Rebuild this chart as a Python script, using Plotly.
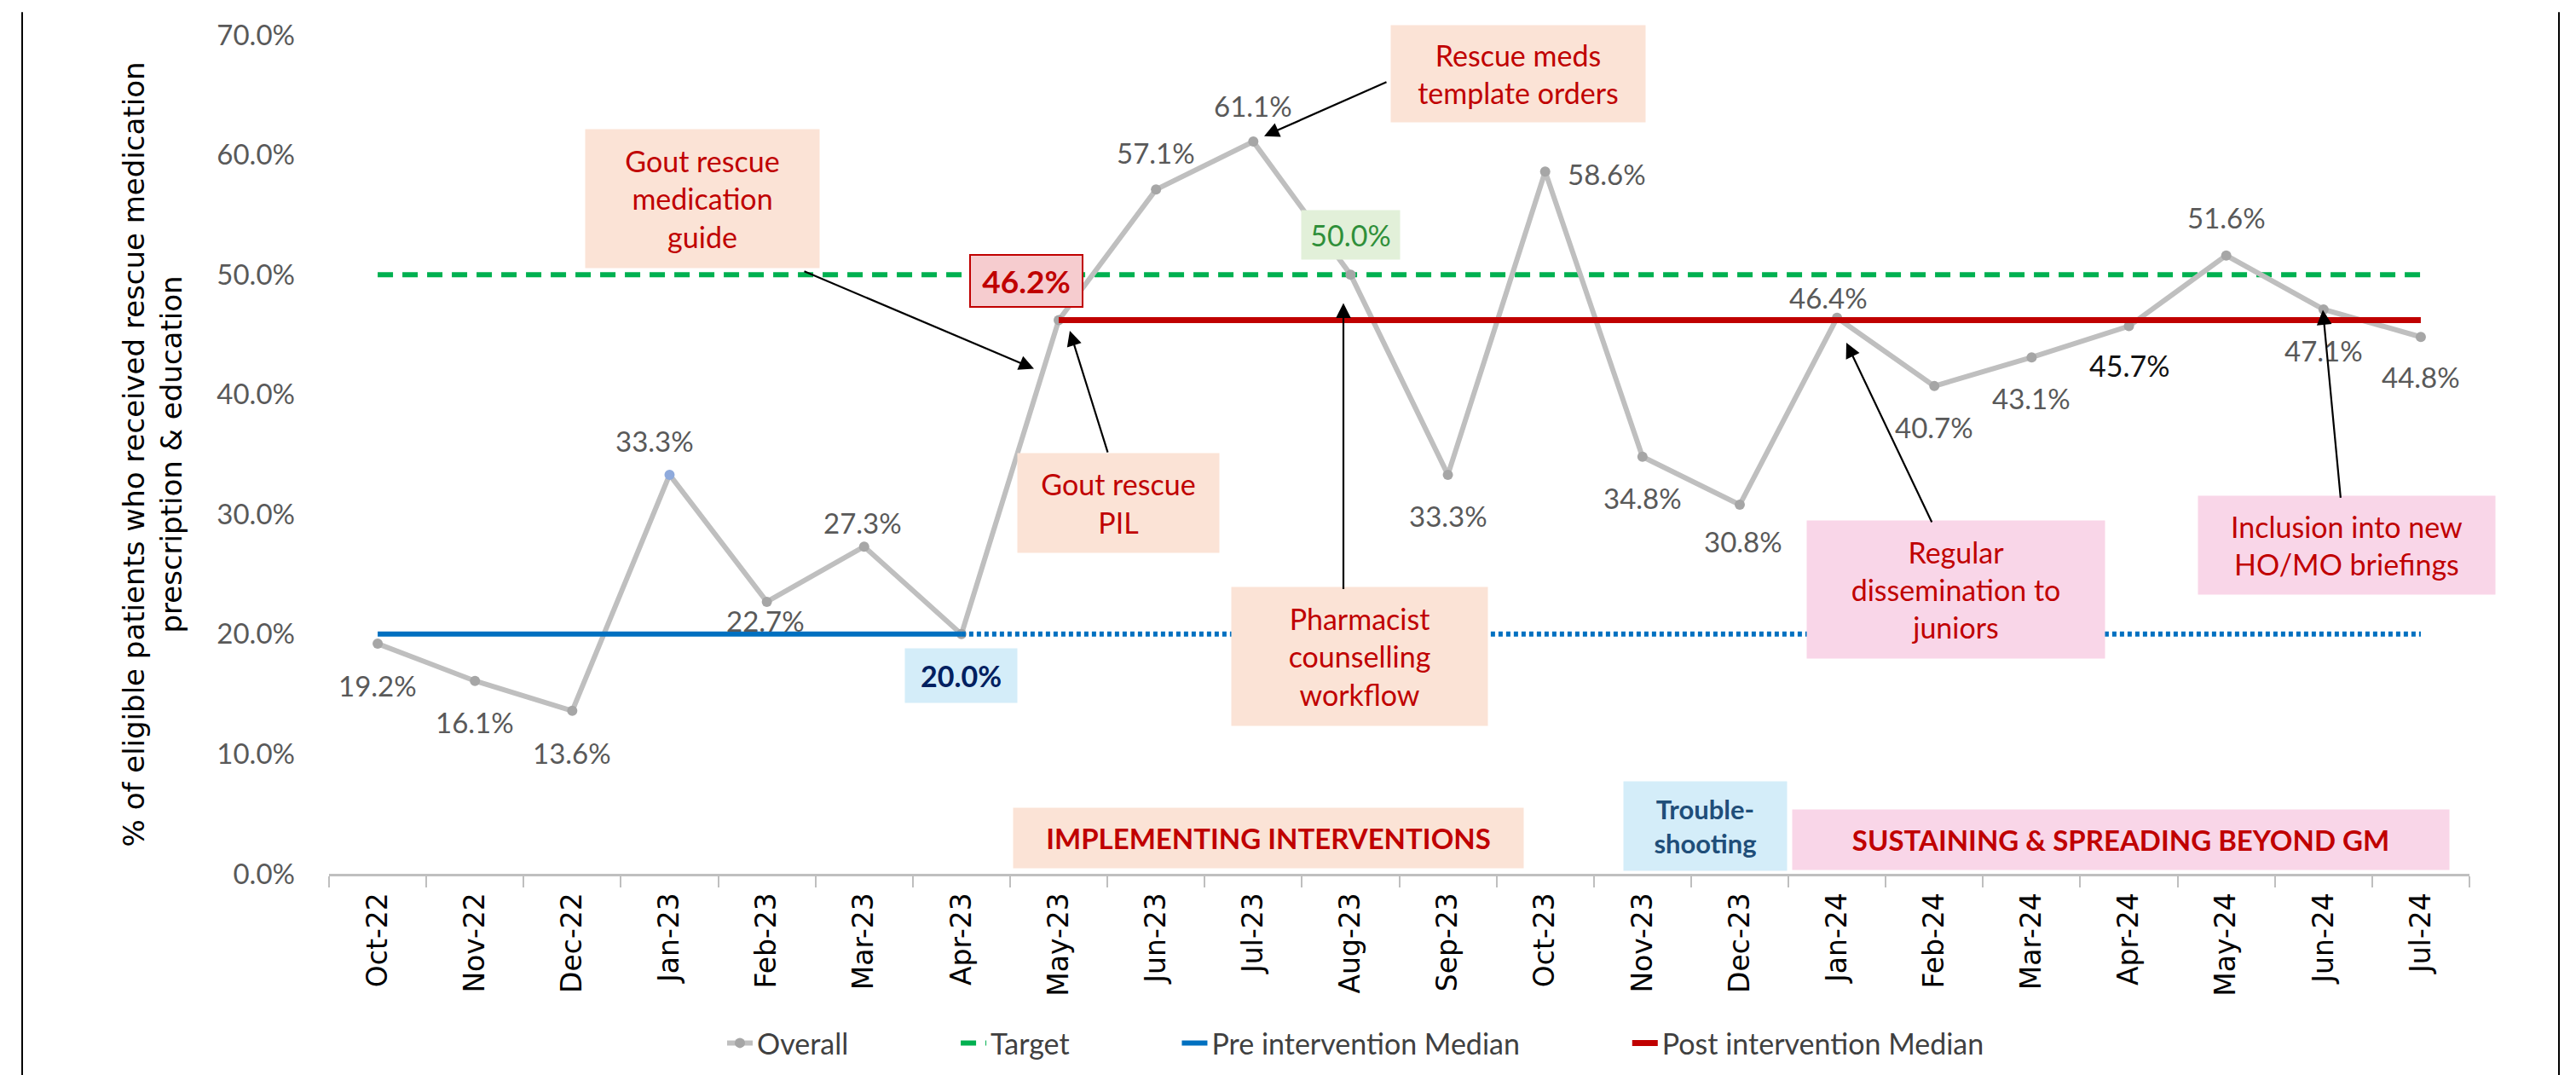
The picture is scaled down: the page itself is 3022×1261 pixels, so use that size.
import plotly.graph_objects as go

# ---- data -------------------------------------------------------------
months = [
    "Oct-22", "Nov-22", "Dec-22", "Jan-23", "Feb-23", "Mar-23", "Apr-23",
    "May-23", "Jun-23", "Jul-23", "Aug-23", "Sep-23", "Oct-23", "Nov-23",
    "Dec-23", "Jan-24", "Feb-24", "Mar-24", "Apr-24", "May-24", "Jun-24",
    "Jul-24",
]
overall = [
    19.2, 16.1, 13.6, 33.3, 22.7, 27.3, 20.0, 46.2, 57.1, 61.1, 50.0,
    33.3, 58.6, 34.8, 30.8, 46.4, 40.7, 43.1, 45.7, 51.6, 47.1, 44.8,
]
target = 50.0
pre_median = 20.0
post_median = 46.2
pre_last = 6      # Apr-23, last month of the baseline
post_first = 7    # May-23, first month after interventions

# ---- layout helpers ---------------------------------------------------
W, H = 3022, 1261
L, R, T, B = 378, 133, 22, 244
PW, PH = W - L - R, H - T - B

FONT = "Lato, 'Open Sans', sans-serif"
WIDE = "'DejaVu Sans', Verdana, sans-serif"
GRAY_TXT = "#595959"
RED_TXT = "#C00000"
PEACH = "#FBE3D6"
PINK = "#F9D6E8"
LBLUE = "#D4EDF9"
NB = "\u00a0"


def px_x(x):
    return (x - L) / PW


def px_y(y):
    return (T + PH - y) / PH


fig = go.Figure()

fig.add_trace(go.Scatter(
    x=months, y=[target] * len(months), mode="lines", name="Target" + NB * 14,
    line=dict(color="#00B050", width=6, dash="18px,11px"), legendrank=2,
))

mcol = ["#A6A6A6"] * len(months)
mcol[3] = "#8FAADC"
fig.add_trace(go.Scatter(
    x=months, y=overall, mode="lines+markers", name="Overall" + NB * 14,
    line=dict(color="#BFBFBF", width=6),
    marker=dict(size=12, color=mcol), legendrank=1,
))

fig.add_trace(go.Scatter(
    x=months[:pre_last + 1], y=[pre_median] * (pre_last + 1), mode="lines",
    name="Pre intervention Median" + NB * 14,
    line=dict(color="#0070C0", width=6), legendrank=3,
))
fig.add_trace(go.Scatter(
    x=months[pre_last:], y=[pre_median] * (len(months) - pre_last),
    mode="lines", showlegend=False,
    line=dict(color="#0070C0", width=6, dash="5px,4px"),
))
fig.add_trace(go.Scatter(
    x=months[post_first:], y=[post_median] * (len(months) - post_first),
    mode="lines", name="Post intervention Median",
    line=dict(color="#C00000", width=7), legendrank=4,
))

# ---- data labels ------------------------------------------------------
# label offsets (dx, dy) in px from the point, dy downwards
offsets = [
    (0, 49), (0, 48), (0, 49), (-17, -40), (-2, 22), (-2, -28), (0, 49),
    (-38, -46), (0, -43), (0, -42), (0, -47), (0, 48), (72, 3), (0, 48),
    (4, 43), (-10, -24), (0, 48), (0, 48), (0, 46), (0, -45), (0, 48),
    (0, 47),
]
special = {
    6: dict(font=dict(family=FONT, size=34, color="#002060"), bgcolor=LBLUE,
            width=131, height=63, bold=True),
    7: dict(font=dict(family=FONT, size=37, color=RED_TXT), bgcolor="#F6CCCF",
            width=130, height=59, bold=True, bordercolor=RED_TXT,
            borderwidth=2),
    10: dict(font=dict(family=FONT, size=34, color="#2F8F3A"),
             bgcolor="#E2F0D9", width=115, height=57, bold=False),
    18: dict(font=dict(family=FONT, size=34, color="#111111"), bold=False),
}
for i, (m, v) in enumerate(zip(months, overall)):
    dx, dy = offsets[i]
    txt = f"{v:.1f}%"
    kw = dict(font=dict(family=FONT, size=33, color=GRAY_TXT))
    if i in special:
        s = dict(special[i])
        if s.pop("bold"):
            txt = f"<b>{txt}</b>"
        kw.update(s)
    fig.add_annotation(x=m, y=v, text=txt, showarrow=False, xshift=dx,
                       yshift=-dy, xanchor="center", yanchor="middle",
                       borderpad=0, **kw)

# ---- intervention boxes -----------------------------------------------
boxes = [
    ("Gout rescue<br>medication<br>guide", 679, 135, 953, 297, PEACH, RED_TXT, False, 34),
    ("Rescue meds<br>template orders", 1624, 12, 1922, 125, PEACH, RED_TXT, False, 34),
    ("Gout rescue<br>PIL", 1186, 519, 1422, 635, PEACH, RED_TXT, False, 34),
    ("Pharmacist<br>counselling<br>workflow", 1437, 678, 1737, 840, PEACH, RED_TXT, False, 34),
    ("Regular<br>dissemination to<br>juniors", 2112, 599, 2461, 760, PINK, RED_TXT, False, 34),
    ("Inclusion into new<br>HO/MO briefings", 2571, 570, 2919, 685, PINK, RED_TXT, False, 34),
    ("IMPLEMENTING INTERVENTIONS", 1181, 940, 1779, 1010, PEACH, RED_TXT, True, 33),
    ("Trouble-<br>shooting", 1897, 908, 2088, 1012, LBLUE, "#1F4E79", True, 31),
    ("SUSTAINING & SPREADING BEYOND GM", 2095, 942, 2865, 1012, PINK, RED_TXT, True, 33),
]
for text, x0, y0, x1, y1, bg, col, bold, size in boxes:
    fig.add_annotation(
        xref="paper", yref="paper", x=px_x((x0 + x1) / 2), y=px_y((y0 + y1) / 2),
        text=f"<b>{text}</b>" if bold else text, showarrow=False,
        xanchor="center", yanchor="middle", width=x1 - x0, height=y1 - y0,
        bgcolor=bg, borderpad=0, align="center", valign="middle",
        font=dict(family=FONT, size=size, color=col),
    )

# arrows: head (x, y) -> tail (x, y) in px
arrows = [
    ((1205, 418), (934, 303)),
    ((1247, 373), (1292, 517)),
    ((1475, 142), (1620, 78)),
    ((1568, 340), (1568, 677)),
    ((2158, 387), (2259, 599)),
    ((2717, 348), (2738, 570)),
]
for (hx, hy), (tx, ty) in arrows:
    fig.add_annotation(
        xref="paper", yref="paper", x=px_x(hx), y=px_y(hy), text="",
        showarrow=True, ax=tx - hx, ay=ty - hy, arrowhead=2, arrowsize=1.6,
        arrowwidth=2.2, arrowcolor="black", standoff=0, startstandoff=0,
    )

# outer frame lines
for xp in (18, 2994):
    fig.add_shape(type="line", xref="paper", yref="paper", x0=px_x(xp),
                  x1=px_x(xp), y0=px_y(H + 5), y1=px_y(-5),
                  line=dict(color="black", width=2))

fig.update_layout(
    width=W, height=H, autosize=False,
    margin=dict(l=L, r=R, t=T, b=B),
    paper_bgcolor="white", plot_bgcolor="white",
    showlegend=True,
    legend=dict(orientation="h", x=px_x(840), xanchor="left", y=px_y(1218),
                yanchor="middle", font=dict(family=FONT, size=34, color="#404040"),
                itemwidth=30, bgcolor="rgba(0,0,0,0)"),
)
fig.update_xaxes(
    type="category", tickangle=-90, showgrid=False, showline=True,
    linecolor="#BFBFBF", linewidth=3, ticks="outside", tickson="boundaries",
    ticklen=13, tickwidth=2, tickcolor="#BFBFBF", ticklabelstandoff=6,
    tickfont=dict(family=WIDE, size=33, color="black"),
    range=[-0.5, len(months) - 0.5],
)
fig.update_yaxes(
    range=[0, 70], dtick=10, tickformat=".1f", ticksuffix="%",
    showgrid=False, zeroline=False, showline=False, ticklabelstandoff=39,
    tickfont=dict(family=FONT, size=33, color=GRAY_TXT),
    title=dict(text="% of eligible patients who received rescue medication<br>prescription & education",
               font=dict(family=WIDE, size=34, color="black"), standoff=30),
)

fig.write_html("out.html")
